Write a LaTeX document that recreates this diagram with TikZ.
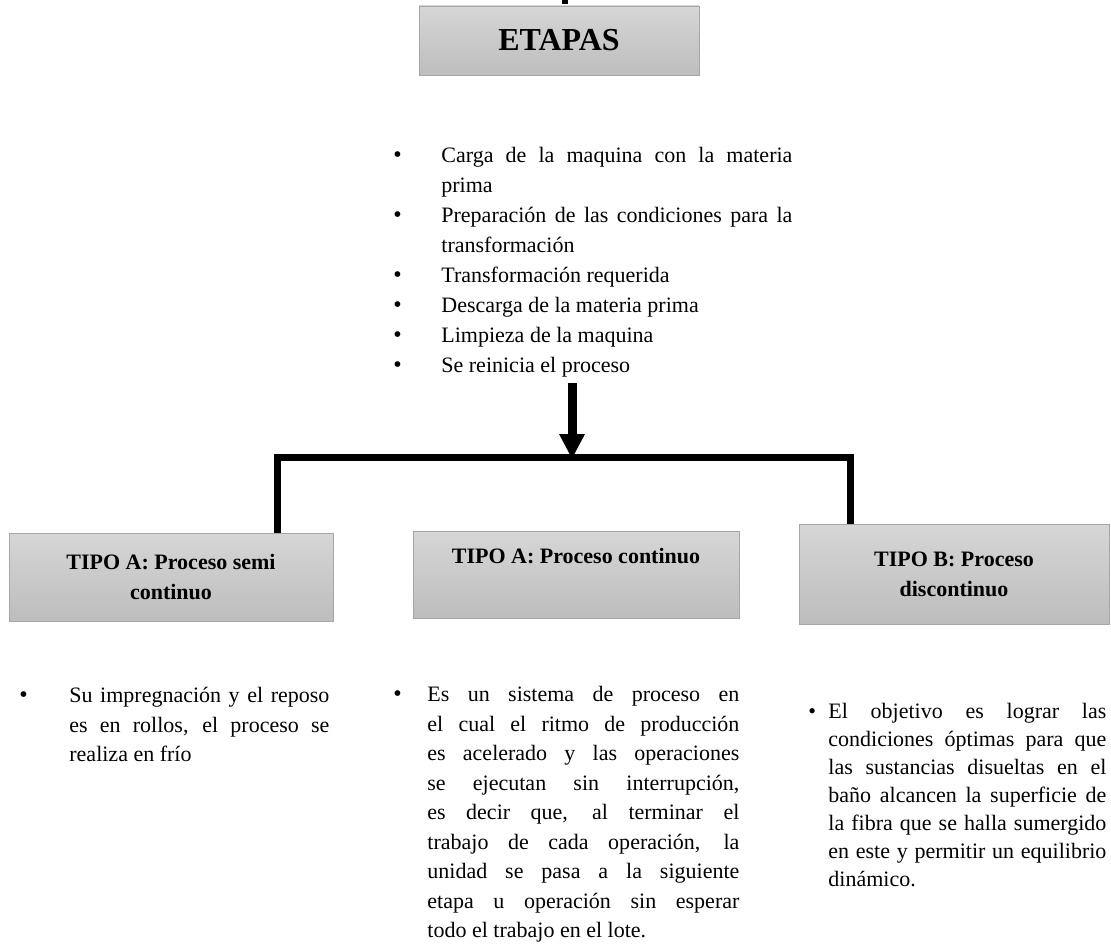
\documentclass[tikz,border=0pt]{standalone}
\usepackage{fontspec}
\setmainfont{Liberation Serif}
\usepackage{tikz}
\usetikzlibrary{arrows.meta}
\definecolor{cajaarriba}{HTML}{D6D6D6}
\definecolor{cajaabajo}{HTML}{BDBDBD}
\definecolor{borde}{HTML}{A6A6A6}
\tikzstyle{caja} = [rectangle, draw=borde, top color=cajaarriba, bottom color=cajaabajo, align=center, inner sep=0pt, font=\fontsize{11}{15}\selectfont\bfseries]
\tikzstyle{lista} = [anchor=north west, inner sep=0pt, align=justify, font=\fontsize{11}{15}\selectfont]
\tikzstyle{barra} = [line width=3.5pt]
\newcommand{\punto}[3][\large]{\par\noindent\hangindent=#2\hangafter=1\makebox[#2][l]{#1\textbullet}\ignorespaces#3\par}
\hyphenpenalty=10000
\tolerance=10000

\begin{document}
\begin{tikzpicture}[x=0.5pt, y=-0.5pt]
        \useasboundingbox (0,0) rectangle (1111,951);

        \node[caja, minimum width=140pt, minimum height=34.5pt, font=\fontsize{16}{19}\selectfont\bfseries] (Etapas) at (559, 40.5) {ETAPAS};
        \coordinate (Corte) at (565, 0);
        \draw[line width=3pt] (Corte) -- (Corte |- 0, 4);

        \node[lista, text width=199.5pt] (Pasos) at (393, 132) {%
        \punto{24pt}{Carga de la maquina con la materia\linebreak prima}
        \punto{24pt}{Preparación de las condiciones para la\linebreak transformación}
        \punto{24pt}{Transformación requerida}
        \punto{24pt}{Descarga de la materia prima}
        \punto{24pt}{Limpieza de la maquina}
        \punto{24pt}{Se reinicia el proceso}};

        \node[caja, minimum width=162pt, minimum height=44pt] (TipoSemi) at (171, 577) {TIPO A: Proceso semi\\continuo};
        \node[caja, minimum width=163pt, minimum height=43.5pt] (TipoContinuo) at (576, 575) {TIPO A: Proceso continuo\\\strut};
        \node[caja, minimum width=155pt, minimum height=50pt] (TipoB) at (954, 574) {TIPO B: Proceso\\discontinuo};

        \coordinate (Inicio) at (572, 383);
        \coordinate (Cruce) at (572, 459);
        \coordinate (RamaIzq) at (277, 457);
        \coordinate (RamaDer) at (850, 457);
        \draw[barra] (RamaIzq |- TipoSemi.north) -- (RamaIzq) -- (RamaDer) -- (RamaDer |- TipoB.north);
        \draw[line width=4.5pt, -{Triangle[width=12pt, length=12.5pt]}] (Inicio) -- (Cruce);

        \node[lista, text width=155pt, font=\fontsize{11}{14.75}\selectfont] (NotaSemi) at (19, 673) {%
        \punto{25pt}{Su impregnación y el reposo\linebreak es en rollos, el proceso se\linebreak realiza en frío}};
        \node[lista, text width=173pt, font=\fontsize{11}{14.75}\selectfont] (NotaContinuo) at (393, 672) {%
        \punto{17pt}{Es un sistema de proceso en\linebreak el cual el ritmo de producción\linebreak es acelerado y las operaciones\linebreak se ejecutan sin interrupción,\linebreak es decir que, al terminar el\linebreak trabajo de cada operación, la\linebreak unidad se pasa a la siguiente\linebreak etapa u operación sin esperar\linebreak todo el trabajo en el lote.}};
        \node[lista, text width=149pt, font=\fontsize{11}{14}\selectfont] (NotaB) at (808, 690) {%
        \punto[]{10pt}{El objetivo es lograr las\linebreak condiciones óptimas para que\linebreak las sustancias disueltas en el\linebreak baño alcancen la superficie de\linebreak la fibra que se halla sumergido\linebreak en este y permitir un equilibrio\linebreak dinámico.}};
\end{tikzpicture}
\end{document}
